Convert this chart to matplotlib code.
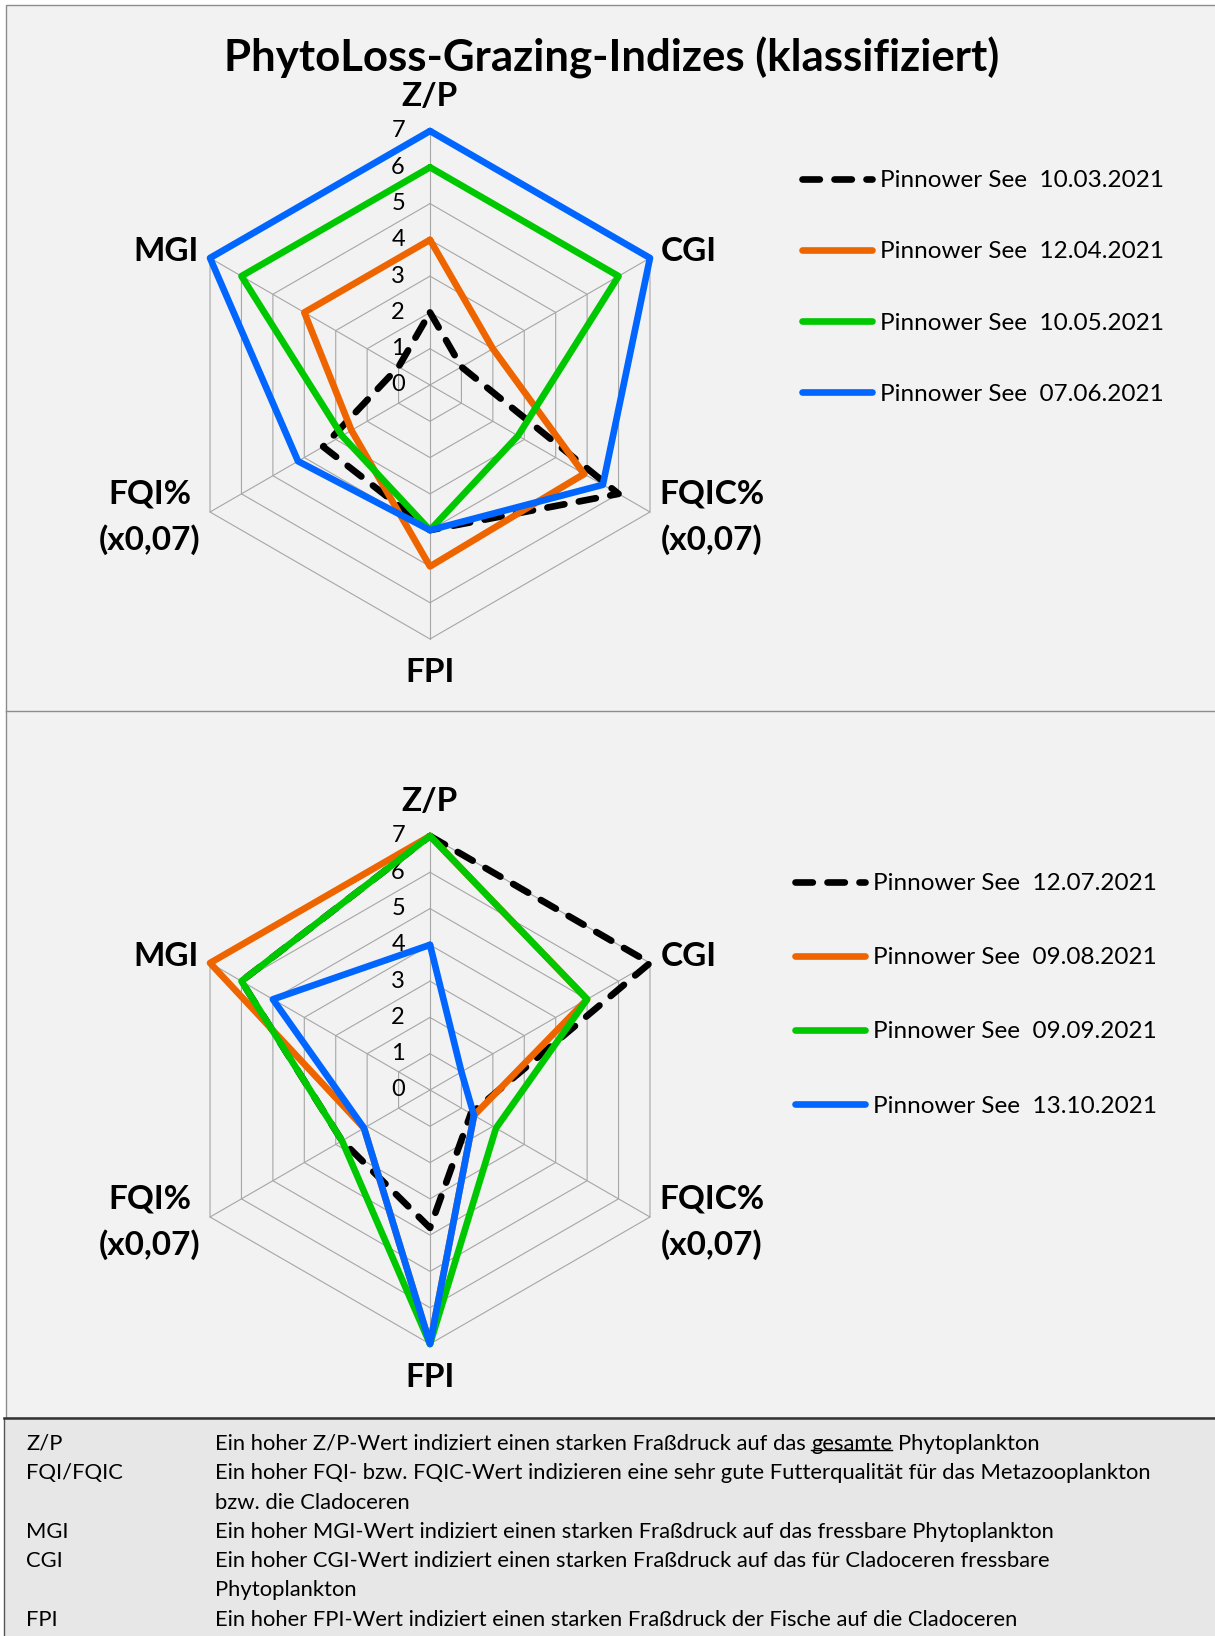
import matplotlib.pyplot as plt
from matplotlib.patches import Rectangle
from matplotlib.lines import Line2D
import numpy as np

plt.rcParams['font.family'] = ['Lato', 'DejaVu Sans']

# ---- data ----
categories = ['Z/P', 'CGI', 'FQIC%\n(x0,07)', 'FPI', 'FQI%\n(x0,07)', 'MGI']
ticks = [0, 1, 2, 3, 4, 5, 6, 7]

# spring samples (upper chart)
dates_top = ['10.03.2021', '12.04.2021', '10.05.2021', '07.06.2021']
pin_0310 = [2, 1, 6.0, 4, 3.4, 1]
pin_1204 = [4, 2, 4.9, 5, 2.5, 4]
pin_1005 = [6, 6, 2.8, 4, 2.8, 6]
pin_0706 = [7, 7, 5.5, 4, 4.2, 7]

# summer / autumn samples (lower chart)
dates_bottom = ['12.07.2021', '09.08.2021', '09.09.2021', '13.10.2021']
pin_1207 = [7, 7, 1.3, 3.8, 2.8, 6]
pin_0908 = [7, 5, 1.4, 7, 2.1, 7]
pin_0909 = [7, 5, 2.1, 7, 2.8, 6]
pin_1310 = [4, 1, 1.4, 7, 2.1, 5]

table_keys = ['Z/P', 'FQI/FQIC', '', 'MGI', 'CGI', '', 'FPI']
table_lines = [
    'Ein hoher Z/P-Wert indiziert einen starken Fraßdruck auf das gesamte Phytoplankton',
    'Ein hoher FQI- bzw. FQIC-Wert indizieren eine sehr gute Futterqualität für das Metazooplankton',
    'bzw. die Cladoceren',
    'Ein hoher MGI-Wert indiziert einen starken Fraßdruck auf das fressbare Phytoplankton',
    'Ein hoher CGI-Wert indiziert einen starken Fraßdruck auf das für Cladoceren fressbare',
    'Phytoplankton',
    'Ein hoher FPI-Wert indiziert einen starken Fraßdruck der Fische auf die Cladoceren',
]

colors = ['black', '#EE6500', '#00C800', '#0066FF']
W, H = 1215, 1636

fig = plt.figure(figsize=(W / 100, H / 100), dpi=100)
fig.patch.set_facecolor('white')

# panel backgrounds and borders
fig.add_artist(Rectangle((6 / W, 1 - 1418 / H), 1, (1418 - 5) / H, transform=fig.transFigure,
                         facecolor='#f2f2f2', edgecolor='#8c8c8c', lw=1, zorder=0))
fig.add_artist(Line2D([6 / W, 1], [1 - 711 / H] * 2, transform=fig.transFigure, color='#8c8c8c', lw=1))
fig.add_artist(Rectangle((4 / W, 0), 1, 1 - 1418 / H, transform=fig.transFigure,
                         facecolor='#e7e7e7', edgecolor='none', zorder=0))
fig.add_artist(Line2D([4 / W, 4 / W], [0, 1 - 1418 / H], transform=fig.transFigure, color='#555555', lw=1))
fig.add_artist(Line2D([4 / W, 1], [1 - 1418 / H] * 2, transform=fig.transFigure, color='#333333', lw=1.8))

fig.text(0.503, 1 - 58 / H, 'PhytoLoss-Grazing-Indizes (klassifiziert)', ha='center', va='center',
         fontsize=31.5, fontweight='bold')

# label placement: (radius, ha)
label_pos = [(7.95, 'center'), (7.35, 'left'), (7.3, 'left'), (7.93, 'center'), (7.3, 'right'), (7.35, 'right')]


def draw_radar(rect, series, dates, leg_anchor, spacing):
    ax = fig.add_axes(rect, projection='polar')
    ax.set_theta_zero_location('N')
    ax.set_theta_direction(-1)
    ax.set_ylim(0, 7)
    ax.grid(False)
    ax.spines['polar'].set_visible(False)
    ax.patch.set_visible(False)
    ax.set_xticks([])
    ax.set_yticks([])

    angles = np.linspace(0, 2 * np.pi, len(categories), endpoint=False)
    closed = np.append(angles, angles[0])

    for r in ticks[1:]:
        ax.plot(closed, [r] * len(closed), color='#a6a6a6', lw=0.8, zorder=1, clip_on=False)
    for a in angles:
        ax.plot([a, a], [0, ticks[-1]], color='#a6a6a6', lw=0.8, zorder=1, clip_on=False)

    for r in ticks:
        ax.annotate(str(r), xy=(0, r), xytext=(-18, 0), textcoords='offset points',
                    ha='right', va='center', fontsize=17, zorder=2)

    for a, cat, (rr, ha) in zip(angles, categories, label_pos):
        ax.text(a, rr, cat, ha=ha, va='center', multialignment='center',
                fontsize=24, fontweight='bold', linespacing=1.6)

    for i, (vals, col, d) in enumerate(zip(series, colors, dates)):
        kw = dict(color=col, lw=4.8, clip_on=False, zorder=3 + i,
                  label='Pinnower See  ' + d, solid_capstyle='round')
        if i == 0:
            kw.update(linestyle=(0, (2.6, 2.2)), dash_capstyle='round')
        ax.plot(closed, list(vals) + [vals[0]], **kw)

    ax.legend(loc='upper left', bbox_to_anchor=leg_anchor, bbox_transform=fig.transFigure,
              frameon=False, fontsize=17.5, handlelength=2.9, handletextpad=0.3,
              labelspacing=spacing, borderpad=0, borderaxespad=0)
    return ax


size = 508
draw_radar([176 / W, 1 - 639 / H, size / W, size / H],
           [pin_0310, pin_1204, pin_1005, pin_0706], dates_top, (802 / W, 1 - 170 / H), 2.07)
draw_radar([176 / W, 1 - 1344 / H, size / W, size / H],
           [pin_1207, pin_0908, pin_0909, pin_1310], dates_bottom, (795 / W, 1 - 873 / H), 2.19)

# explanation table
fs = 15.8
texts = []
for i, (k, line) in enumerate(zip(table_keys, table_lines)):
    y = 1 - (1444 + 29.3 * i) / H
    fig.text(26 / W, y, k, ha='left', va='center', fontsize=fs)
    if i == 0:
        pre, post = line.split('gesamte')
        t1 = fig.text(215 / W, y, pre.rstrip(), ha='left', va='center', fontsize=fs)
        t2 = fig.text(0, y, 'gesamte', ha='left', va='center', fontsize=fs)
        t3 = fig.text(0, y, post.strip(), ha='left', va='center', fontsize=fs)
        texts = [t1, t2, t3]
    else:
        fig.text(215 / W, y, line, ha='left', va='center', fontsize=fs)

fig.canvas.draw()
rend = fig.canvas.get_renderer()
space = 5.5
b1 = texts[0].get_window_extent(rend)
texts[1].set_x((b1.x1 + space) / W)
b2 = texts[1].get_window_extent(rend)
texts[2].set_x((b2.x1 + space) / W)
b2 = texts[1].get_window_extent(rend)
uy = (b2.y0 + 0.2 * b2.height) / H
fig.add_artist(Line2D([b2.x0 / W, b2.x1 / W], [uy, uy], transform=fig.transFigure, color='black', lw=1))

fig.savefig('out.png', dpi=100)
